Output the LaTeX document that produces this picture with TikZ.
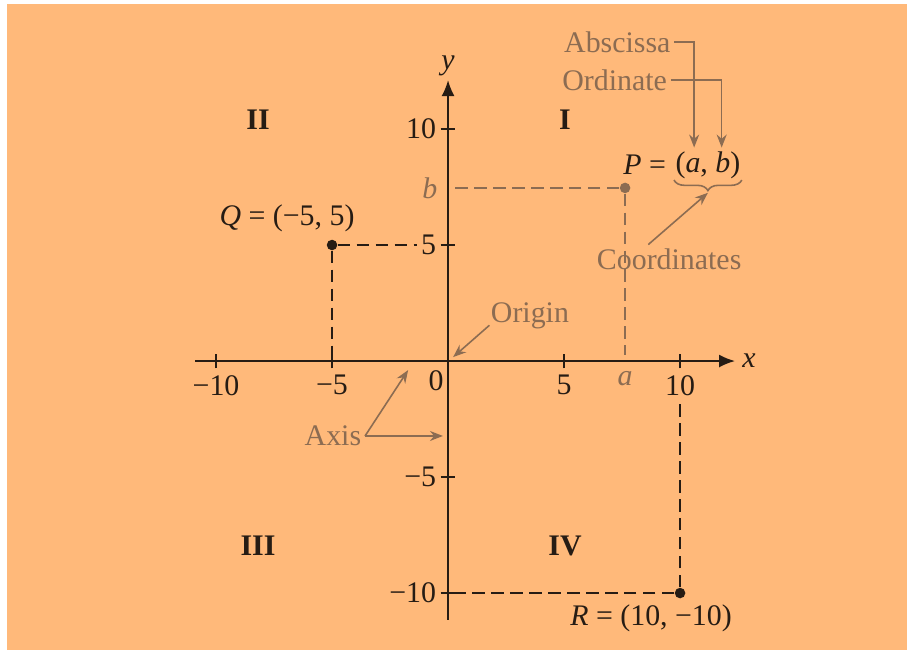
\documentclass[tikz,border=0pt]{standalone}
\usepackage{fontspec}
\setmainfont{Liberation Serif}
\usetikzlibrary{positioning,arrows.meta,calc,decorations.pathreplacing}
\definecolor{paper}{RGB}{255,185,122}
\definecolor{ink}{RGB}{38,28,20}
\definecolor{note}{RGB}{140,108,82}

\begin{document}
\begin{tikzpicture}[x=0.464cm,y=0.464cm,>={Latex[length=3.2mm,width=2.6mm]},
  every node/.style={font=\fontsize{17}{20}\selectfont,text=ink,inner sep=2pt},
  quad/.style={font=\fontsize{17}{20}\selectfont\bfseries},
  guide/.style={draw=ink,line width=1.1pt,dash pattern=on 7pt off 3.8pt},
  pointer/.style={draw=note,line width=0.9pt,-{Stealth[length=2.6mm,width=2mm]}},
  dot/.style={circle,fill=ink,inner sep=0pt,minimum size=6pt}]
\useasboundingbox (-19.31,-12.46) rectangle (19.78,15.56);
\fill[white] (-19.31,-12.46) rectangle (19.78,15.56);
\fill[paper] (-19.01,-12.46) rectangle (19.78,15.39);

% axes
\coordinate (O) at (0,0);
\coordinate (xs) at (-10.9,0);
\coordinate (xe) at (12.37,0);
\coordinate (ys) at (0,-11.16);
\coordinate (ye) at (0,12.11);
\draw[ink,line width=1.1pt,->] (xs) -- (xe);
\draw[ink,line width=1.1pt,->] (ys) -- (ye);
\node[right=2pt of xe,font=\fontsize{17}{20}\selectfont\itshape] (xlab) {x};
\node[above=0pt of ye,font=\fontsize{17}{20}\selectfont\itshape] (ylab) {y};
\foreach \t in {-10,-5,5,10}{
  \draw[ink,line width=1pt] (\t,-0.32) -- (\t,0.32);
  \draw[ink,line width=1pt] (-0.32,\t) -- (0.32,\t);
}
\node[anchor=north] (xm10) at (-10,-0.45) {−10};
\node[anchor=north] (xm5) at (-5,-0.45) {−5};
\node[anchor=north] (xp5) at (5,-0.45) {5};
\node[anchor=north] (xp10) at (10,-0.45) {10};
\node (zero) at (-0.52,-0.86) {0};
\node[anchor=east] (yp10) at (-0.35,10) {10};
\node[anchor=east] (yp5) at (-0.35,5) {5};
\node[anchor=east] (ym5) at (-0.35,-5) {−5};
\node[anchor=east] (ym10) at (-0.35,-10) {−10};

% quadrants
\node[quad] (qI) at (5.04,10.39) {I};
\node[quad] (qII) at (-8.19,10.39) {II};
\node[quad] (qIII) at (-8.19,-7.97) {III};
\node[quad] (qIV) at (5.04,-7.97) {IV};

% points
\node[dot] (Q) at (-5,5) {};
\node[dot] (R) at (10,-10) {};
\node[dot,fill=note] (P) at (7.63,7.46) {};
\coordinate (Qx) at (-5,0);
\coordinate (Ry) at (0,-10);
\coordinate (Pa) at (7.63,0.25);
\coordinate (Pb) at (0.3,7.46);
\draw[guide] (Q) -- (yp5.west);
\draw[guide] (Q) -- (Qx);
\draw[guide] (R) -- (xp10.south);
\draw[guide] (R) -- (Ry);
\draw[guide,draw=note] (P) -- (Pb);
\draw[guide,draw=note] (P) -- (Pa);
\node[text=note,font=\fontsize{17}{20}\selectfont\itshape] (alab) at (7.63,-0.75) {a};
\node[text=note,font=\fontsize{17}{20}\selectfont\itshape,anchor=east] (blab) at (-0.3,7.46) {b};

\node (Qlab) at (-6.94,6.16) {\textit{Q} = (−5, 5)};
\node (Rlab) at (8.75,-11.08) {\textit{R} = (10, −10)};
\node (Ppair) at (11.2,8.45) {(\textit{a}, \textit{b})};
\node[left=1pt of Ppair] (Plab) {\textit{P} =};
\draw[note,line width=0.9pt,decorate,decoration={brace,mirror,amplitude=6pt}]
  ($(Ppair.south west)+(0.1,0.1)$) -- ($(Ppair.south east)+(-0.1,0.1)$);
\coordinate (brtip) at ($(Ppair.south)+(0,-0.45)$);

% notes
\node[text=note,anchor=east] (absc) at (9.75,13.75) {Abscissa};
\node[text=note,anchor=east] (ordn) at (9.6,12.11) {Ordinate};
\coordinate (atip) at ($(Ppair.north west)!0.31!(Ppair.north east)$);
\coordinate (btip) at ($(Ppair.north west)!0.69!(Ppair.north east)$);
\draw[pointer] (absc.east) -| (atip);
\draw[pointer] (ordn.east) -| (btip);
\node[text=note] (coord) at (9.53,4.4) {Coordinates};
\draw[pointer] ($(coord.north)+(-0.9,0)$) -- (brtip);

\node[text=note] (orig) at (3.53,1.94) {Origin};
\coordinate (oend) at (0.22,0.17);
\draw[pointer] ($(orig.west)+(0.1,-0.4)$) -- (oend);

\node[text=note] (axisnote) at (-4.96,-3.23) {Axis};
\coordinate (axx) at (-1.72,-0.39);
\coordinate (axy) at (-0.22,-3.23);
\draw[pointer] (axisnote.east) -- (axx);
\draw[pointer] (axisnote.east) -- (axy);
\end{tikzpicture}
\end{document}
